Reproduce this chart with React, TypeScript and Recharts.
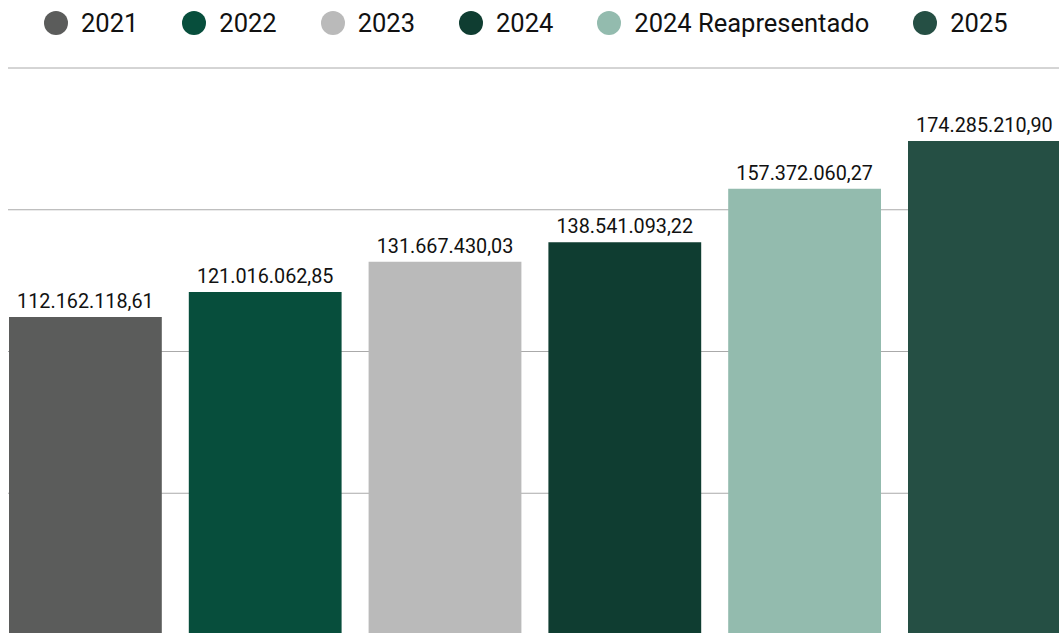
import React from 'react';
import { BarChart, Bar, CartesianGrid, XAxis, YAxis, Legend, LabelList } from 'recharts';

const categories = ['Total'];
const seriesNames = ['2021', '2022', '2023', '2024', '2024 Reapresentado', '2025'];
const seriesKeys = ['y2021', 'y2022', 'y2023', 'y2024', 'y2024r', 'y2025'];
const seriesValues = [112162118.61, 121016062.85, 131667430.03, 138541093.22, 157372060.27, 174285210.9];
const seriesColors = ['#5b5c5b', '#074e3c', '#bababa', '#0f3d31', '#93bbae', '#254f44'];
const yTicks = [0, 50000000, 100000000, 150000000, 200000000];

const data = categories.map((c) => {
  const row: Record<string, any> = { name: c };
  seriesKeys.forEach((k, i) => {
    row[k] = seriesValues[i];
  });
  return row;
});

const fmt = (v: any) => {
  const n = Number(v);
  const fixed = n.toFixed(2);
  const [intPart, dec] = fixed.split('.');
  const withDots = intPart.replace(/\B(?=(\d{3})+(?!\d))/g, '.');
  return `${withDots},${dec}`;
};

const FONT = 'Roboto, "Noto Sans", sans-serif';

const renderLegend = () => (
  <div
    style={{
      height: 60,
      width: 1053,
      display: 'flex',
      alignItems: 'flex-start',
      paddingLeft: 36,
      paddingTop: 2,
      boxSizing: 'border-box',
      fontFamily: FONT,
    }}
  >
    {seriesNames.map((name, i) => (
      <div
        key={name}
        style={{ display: 'flex', alignItems: 'center', marginRight: 44, height: 26 }}
      >
        <span
          style={{
            width: 24,
            height: 24,
            borderRadius: '50%',
            background: seriesColors[i],
            display: 'inline-block',
            marginRight: 13,
            flexShrink: 0,
          }}
        />
        <span style={{ fontSize: 25.5, color: '#111', lineHeight: '26px', whiteSpace: 'nowrap' }}>{name}</span>
      </div>
    ))}
  </div>
);

export default function App() {
  return (
    <div
      style={{
        position: 'fixed',
        left: 0,
        top: 0,
        width: 1059,
        height: 633,
        overflow: 'hidden',
        background: '#fff',
      }}
    >
      <div style={{ position: 'absolute', left: 8, top: 8 }}>
        <BarChart
          width={1053}
          height={627}
          data={data}
          margin={{ top: 0, right: 0, bottom: 0, left: 0 }}
          barCategoryGap={0}
          barGap={27}
        >
          <CartesianGrid horizontal vertical={false} stroke="#aaaaaa" strokeWidth={1} />
          <XAxis dataKey="name" hide />
          <YAxis hide domain={[0, 200000000]} ticks={yTicks} />
          <Legend verticalAlign="top" align="left" wrapperStyle={{ top: 0, left: 0 }} content={renderLegend} />
          {seriesKeys.map((k, i) => (
            <Bar
              key={k}
              dataKey={k}
              name={seriesNames[i]}
              fill={seriesColors[i]}
              barSize={152.8}
              isAnimationActive={false}
            >
              <LabelList
                dataKey={k}
                position="top"
                offset={9}
                formatter={fmt}
                style={{ fontFamily: FONT, fontSize: 19.8, fill: '#111' }}
              />
            </Bar>
          ))}
        </BarChart>
      </div>
    </div>
  );
}
